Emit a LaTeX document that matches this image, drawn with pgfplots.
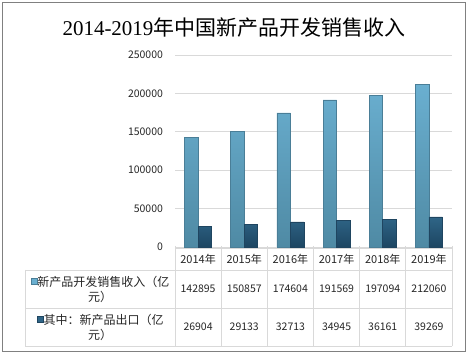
\documentclass[border=0pt]{standalone}
\usepackage{pgfplots}
\pgfplotsset{compat=1.18}
\usepackage{pgfplotstable}
\usepackage{fontspec}
\setmainfont{Noto Sans CJK SC}
\newfontfamily\cjk{Noto Sans CJK SC}
\newfontfamily\titleserif{Liberation Serif}
\definecolor{lightTop}{HTML}{6AAFD0}
\definecolor{lightBot}{HTML}{4F8AA4}
\definecolor{lightEdge}{HTML}{4A7E97}
\definecolor{darkTop}{HTML}{2F6587}
\definecolor{darkBot}{HTML}{1D4662}
\definecolor{darkEdge}{HTML}{1F4560}
\definecolor{gridc}{HTML}{D9D9D9}
\definecolor{framec}{HTML}{808080}
\definecolor{txt}{HTML}{262626}

\pgfplotstableread{
x year rev exp
0 2014 142895 26904
1 2015 150857 29133
2 2016 174604 32713
3 2017 191569 34945
4 2018 197094 36161
5 2019 212060 39269
}\datatable

\begin{document}
\begin{tikzpicture}[x=1pt,y=1pt]
\path[use as bounding box, fill=white] (0,0) rectangle (469,355);
\draw[framec, line width=1.3pt] (2.5,3.5) rectangle (465.5,352.5);
\node[text=black, inner sep=0pt] at (234,327.5) {\fontsize{21}{24}\selectfont{\titleserif 2014-2019}{\cjk 年中国新产品开发销售收入}};
\begin{axis}[
  at={(175pt,108pt)}, anchor=south west,
  scale only axis, width=277pt, height=192pt,
  xmin=-0.5, xmax=5.5, ymin=0, ymax=250000,
  ybar=0pt, bar width=13.5pt,
  axis line style={draw=none},
  xtick=\empty, ytick={0,50000,100000,150000,200000,250000},
  ymajorgrids, grid style={gridc, line width=0.8pt},
  major tick length=0pt,
  scaled y ticks=false,
  yticklabel style={font=\cjk\fontsize{10.5}{12}\selectfont, text=txt, anchor=east, xshift=-8.5pt},
  /pgf/number format/fixed,
  /pgf/number format/1000 sep={},
  /pgf/number format/assume math mode=true,
  clip=false,
]
\addplot[top color=lightTop, bottom color=lightBot, draw=lightEdge, line width=0.6pt] table[x=x,y=rev]{\datatable};
\addplot[top color=darkTop, bottom color=darkBot, draw=darkEdge, line width=0.6pt] table[x=x,y=exp]{\datatable};
\end{axis}
% data table grid
\begin{scope}[gridc, line width=0.8pt]
\draw (175,107) -- (452,107);
\draw (25,85) -- (452,85);
\draw (25,47) -- (452,47);
\draw (25,8.5) -- (452,8.5);
\draw (25,85) -- (25,8.5);
\foreach \k in {0,...,6} {\draw (175+46.1667*\k,109) -- (175+46.1667*\k,8.5);}
\end{scope}
\foreach \i in {0,...,5} {
  \pgfplotstablegetelem{\i}{year}\of\datatable
  \node[text=txt, font=\cjk\fontsize{11}{13}\selectfont] at (198.08+46.1667*\i,96) {\cjk\pgfplotsretval 年};
  \pgfplotstablegetelem{\i}{rev}\of\datatable
  \node[text=txt, font=\cjk\fontsize{10.5}{12}\selectfont] at (198.08+46.1667*\i,66) {\cjk\pgfplotsretval};
  \pgfplotstablegetelem{\i}{exp}\of\datatable
  \node[text=txt, font=\cjk\fontsize{10.5}{12}\selectfont] at (198.08+46.1667*\i,28) {\cjk\pgfplotsretval};
}
\node[text=txt, font=\cjk\fontsize{12}{15}\selectfont, align=center, text width=150pt, inner sep=0pt] at (100,66)
  {\raisebox{1.5pt}{\tikz\draw[fill=lightTop, draw=lightEdge, line width=0.5pt] (0,0) rectangle (6.5pt,6.5pt);}新产品开发销售收入（亿\\元）};
\node[text=txt, font=\cjk\fontsize{12}{15}\selectfont, align=center, text width=150pt, inner sep=0pt] at (100,28)
  {\raisebox{1.5pt}{\tikz\draw[fill=darkTop, draw=darkEdge, line width=0.5pt] (0,0) rectangle (6.5pt,6.5pt);}其中：新产品出口（亿\\元）};
\end{tikzpicture}
\end{document}
